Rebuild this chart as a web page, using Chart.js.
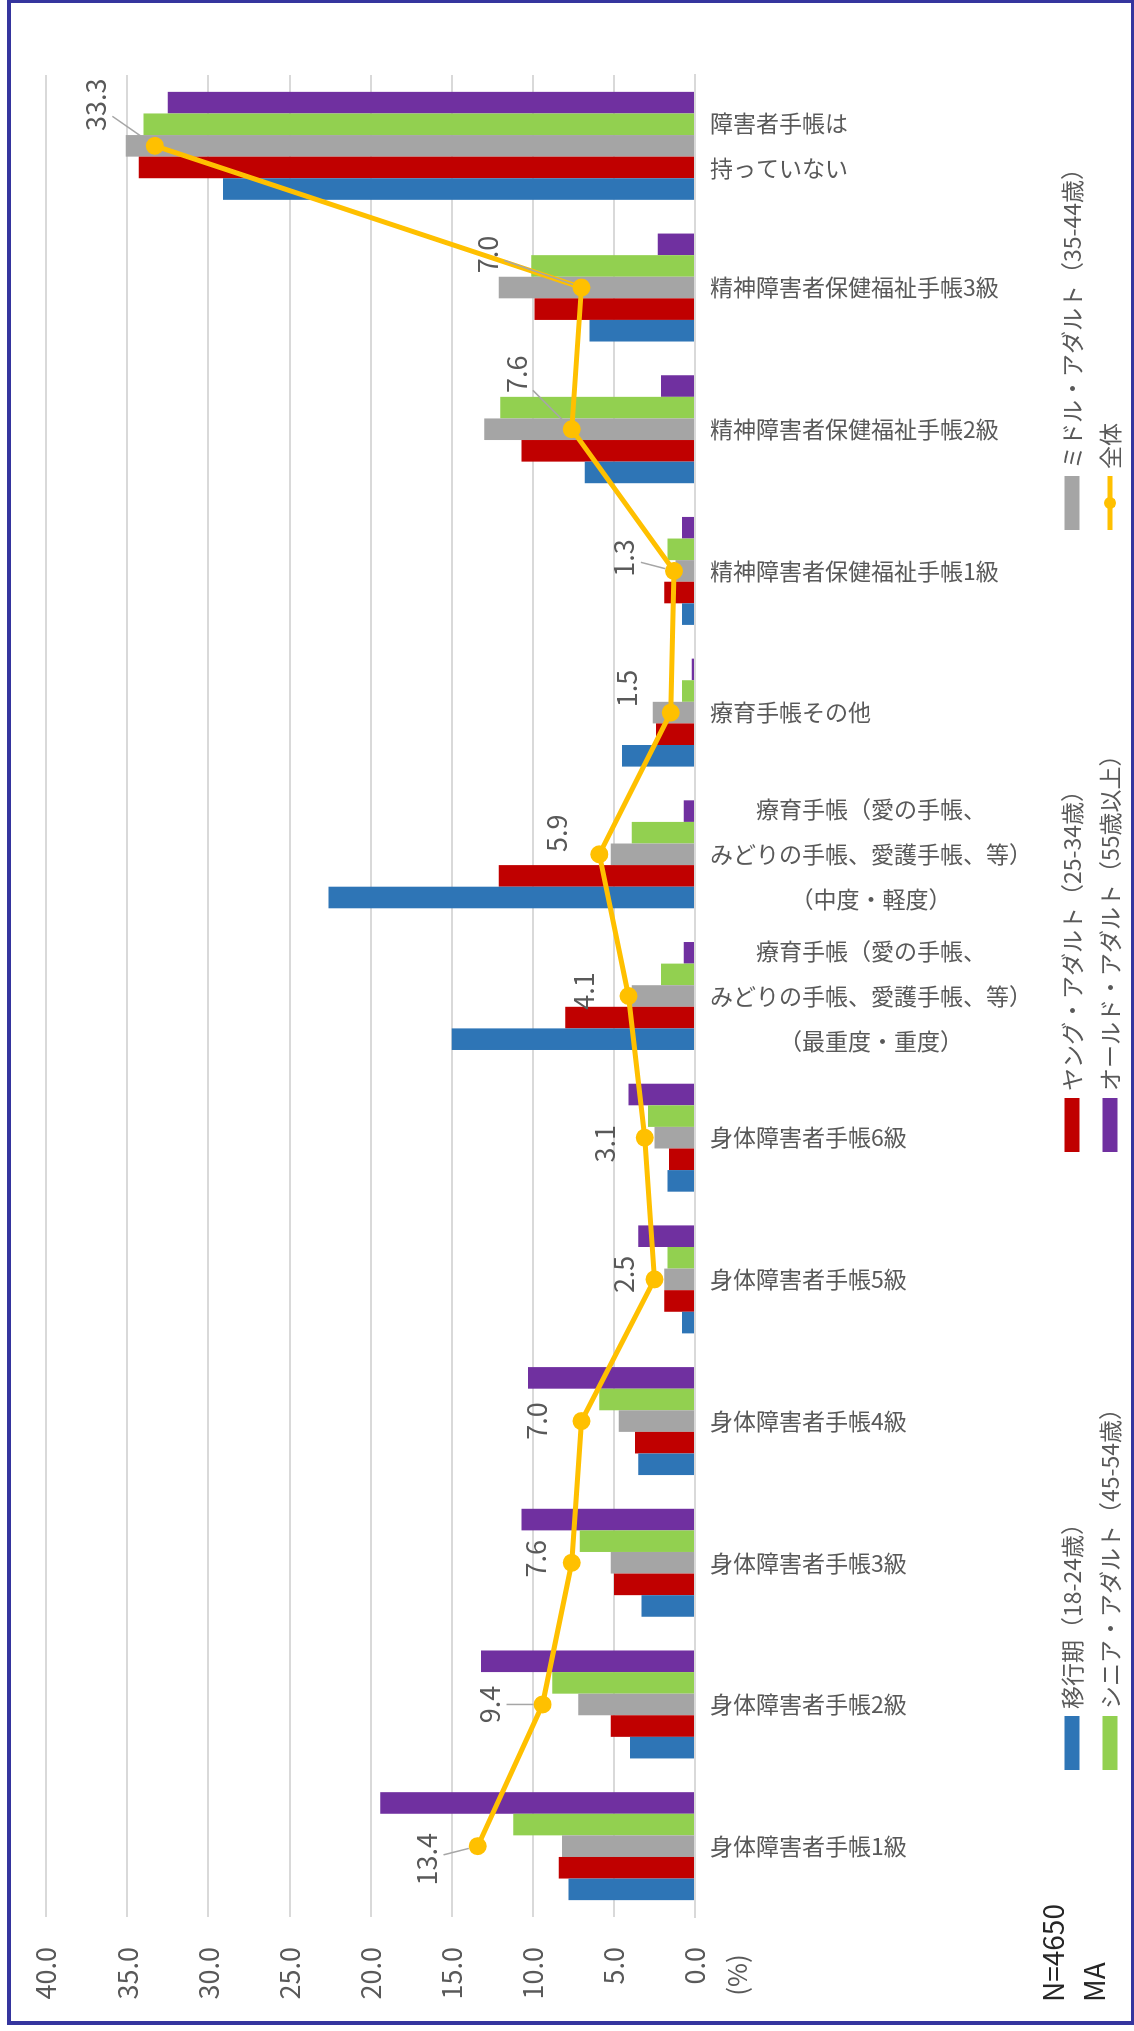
<!DOCTYPE html>
<html lang="ja">
<head>
<meta charset="utf-8">
<title>障害者手帳の所持状況</title>
<script src="https://cdn.jsdelivr.net/npm/chart.js@4.4.1/dist/chart.umd.min.js"></script>
<style>
  html, body { margin: 0; padding: 0; background: #fff; }
  body { width: 1134px; height: 2031px; position: relative; overflow: hidden; }
  /* the chart is drawn upright and then turned a quarter anticlockwise */
  #turn { position: absolute; left: 0; top: 0; width: 2031px; height: 1134px;
          transform-origin: 0 0; transform: translateY(2031px) rotate(-90deg); }
  #frame { position: absolute; left: 7px; top: 0; width: 1127px; height: 2025px;
           box-sizing: border-box; border: 4px solid #35359e;
           border-top-width: 3px; border-right-width: 3px; pointer-events: none; }
</style>
</head>
<body>
<div id="turn"><canvas id="chart" width="2031" height="1134"></canvas></div>
<div id="frame"></div>
<script>
var categories = [
  ['身体障害者手帳1級'],
  ['身体障害者手帳2級'],
  ['身体障害者手帳3級'],
  ['身体障害者手帳4級'],
  ['身体障害者手帳5級'],
  ['身体障害者手帳6級'],
  ['療育手帳（愛の手帳、', 'みどりの手帳、愛護手帳、等）', '（最重度・重度）'],
  ['療育手帳（愛の手帳、', 'みどりの手帳、愛護手帳、等）', '（中度・軽度）'],
  ['療育手帳その他'],
  ['精神障害者保健福祉手帳1級'],
  ['精神障害者保健福祉手帳2級'],
  ['精神障害者保健福祉手帳3級'],
  ['障害者手帳は', '持っていない']
];
var seriesNames = ['移行期（18-24歳）', 'ヤング・アダルト（25-34歳）', 'ミドル・アダルト（35-44歳）',
                   'シニア・アダルト（45-54歳）', 'オールド・アダルト（55歳以上）', '全体'];
var transition = [7.8, 4.0, 3.3, 3.5, 0.8, 1.7, 15.0, 22.6, 4.5, 0.8, 6.8, 6.5, 29.1];
var young      = [8.4, 5.2, 5.0, 3.7, 1.9, 1.6, 8.0, 12.1, 2.4, 1.9, 10.7, 9.9, 34.3];
var middle     = [8.2, 7.2, 5.2, 4.7, 1.9, 2.5, 3.9, 5.2, 2.6, 1.2, 13.0, 12.1, 35.1];
var senior     = [11.2, 8.8, 7.1, 5.9, 1.7, 2.9, 2.1, 3.9, 0.8, 1.7, 12.0, 10.1, 34.0];
var old        = [19.4, 13.2, 10.7, 10.3, 3.5, 4.1, 0.7, 0.7, 0.2, 0.8, 2.1, 2.3, 32.5];
var overall    = [13.4, 9.4, 7.6, 7.0, 2.5, 3.1, 4.1, 5.9, 1.5, 1.3, 7.6, 7.0, 33.3];
var valueTicks = [0, 5, 10, 15, 20, 25, 30, 35, 40];

// where each 全体 label sits relative to its point, and whether it has a leader line
var labelOffsets = [[-13, -51], [0, -53], [4, -36], [0, -45], [5, -31], [-6, -40], [5, -45],
                    [21, -43], [24, -44], [13, -50], [55, -55], [33, -94], [41, -59]];
var leaderLines = [1, 1, 0, 0, 0, 0, 0, 0, 0, 1, 1, 1, 1];

var seriesColors = ['#2E75B6', '#C00000', '#A5A5A5', '#92D050', '#7030A0', '#FFC000'];
var FONT = "'Noto Sans CJK JP', 'Noto Sans', sans-serif";
var TEXT = '#595959';

Chart.defaults.font.family = FONT;
Chart.defaults.color = TEXT;

var extras = {
  id: 'extras',
  afterDatasetsDraw: function (chart) {
    var ctx = chart.ctx, xs = chart.scales.x, area = chart.chartArea;
    ctx.save();

    // category labels, turned a quarter clockwise so they end up level
    ctx.font = '23px ' + FONT;
    ctx.fillStyle = TEXT;
    ctx.textAlign = 'center';
    ctx.textBaseline = 'middle';
    categories.forEach(function (lines, i) {
      var cx = xs.getPixelForTick(i);
      var w = Math.max.apply(null, lines.map(function (l) { return ctx.measureText(l).width; }));
      ctx.save();
      ctx.translate(cx, area.bottom + 15);
      ctx.rotate(Math.PI / 2);
      lines.forEach(function (l, k) {
        ctx.fillText(l, w / 2, (k - (lines.length - 1) / 2) * 45);
      });
      ctx.restore();
    });

    // values of 全体
    var meta = chart.getDatasetMeta(5);
    ctx.font = '27px ' + FONT;
    meta.data.forEach(function (pt, i) {
      var lx = pt.x + labelOffsets[i][0], ly = pt.y + labelOffsets[i][1];
      if (leaderLines[i]) {
        var dx = pt.x - lx, dy = pt.y - ly, len = Math.sqrt(dx * dx + dy * dy);
        var ux = dx / len, uy = dy / len;
        var t = Math.min(ux ? 28 / Math.abs(ux) : 1e9, uy ? 14 / Math.abs(uy) : 1e9) + 3;
        var e = len - 9;
        if (e > t) {
          ctx.strokeStyle = '#A6A6A6';
          ctx.lineWidth = 1.5;
          ctx.beginPath();
          ctx.moveTo(lx + ux * t, ly + uy * t);
          ctx.lineTo(lx + ux * e, ly + uy * e);
          ctx.stroke();
        }
      }
      ctx.fillStyle = TEXT;
      ctx.fillText(overall[i].toFixed(1), lx, ly);
    });

    // legend in three aligned columns
    var cols = [261, 879, 1501], rows = [1072, 1110];
    ctx.font = '23px ' + FONT;
    ctx.textAlign = 'left';
    seriesNames.forEach(function (name, i) {
      var x0 = cols[i % 3], y0 = rows[Math.floor(i / 3)];
      if (i < 5) {
        ctx.fillStyle = seriesColors[i];
        ctx.fillRect(x0, y0 - 7.5, 54, 15);
      } else {
        ctx.strokeStyle = seriesColors[i];
        ctx.lineWidth = 5;
        ctx.beginPath();
        ctx.moveTo(x0, y0);
        ctx.lineTo(x0 + 54, y0);
        ctx.stroke();
        ctx.fillStyle = seriesColors[i];
        ctx.beginPath();
        ctx.arc(x0 + 27, y0, 6, 0, Math.PI * 2);
        ctx.fill();
      }
      ctx.fillStyle = TEXT;
      ctx.fillText(name, x0 + 61, y0);
    });

    // unit and sample notes
    ctx.font = '26px ' + FONT;
    ctx.textAlign = 'center';
    ctx.fillText('(%)', 56, 737);
    ctx.font = '28px ' + FONT;
    ctx.textAlign = 'left';
    ctx.fillStyle = '#262626';
    ctx.fillText('N=4650', 29, 1053);
    ctx.fillText('MA', 29, 1094);
    ctx.restore();
  }
};

var barSeries = [transition, young, middle, senior, old];
var datasets = barSeries.map(function (values, i) {
  return { label: seriesNames[i], data: values, backgroundColor: seriesColors[i], order: 1 };
});
datasets.push({
  type: 'line',
  label: seriesNames[5],
  data: overall,
  borderColor: seriesColors[5],
  backgroundColor: seriesColors[5],
  borderWidth: 5,
  pointRadius: 6.5,
  pointHoverRadius: 6.5,
  tension: 0,
  order: 0
});

new Chart(document.getElementById('chart').getContext('2d'), {
  type: 'bar',
  data: {
    labels: categories.map(function (l) { return l.join(''); }),
    datasets: datasets
  },
  options: {
    responsive: false,
    animation: false,
    layout: { padding: { left: 0, right: 75, top: 42, bottom: 0 } },
    datasets: { bar: { categoryPercentage: 0.762, barPercentage: 1 } },
    scales: {
      x: {
        grid: { display: false },
        border: { display: true, color: '#D9D9D9', width: 2 },
        ticks: { display: false },
        afterFit: function (s) { s.height = 439; }
      },
      y: {
        min: 0,
        max: 40,
        afterBuildTicks: function (s) {
          s.ticks = valueTicks.map(function (v) { return { value: v }; });
        },
        ticks: {
          padding: 30,
          color: TEXT,
          font: { size: 27 },
          callback: function (v) { return v.toFixed(1); }
        },
        grid: { color: '#D9D9D9', lineWidth: 2, drawTicks: false },
        border: { display: false },
        afterFit: function (s) { s.width = 114; }
      }
    },
    plugins: {
      legend: { display: false },
      tooltip: { enabled: false }
    }
  },
  plugins: [extras]
});
</script>
</body>
</html>
